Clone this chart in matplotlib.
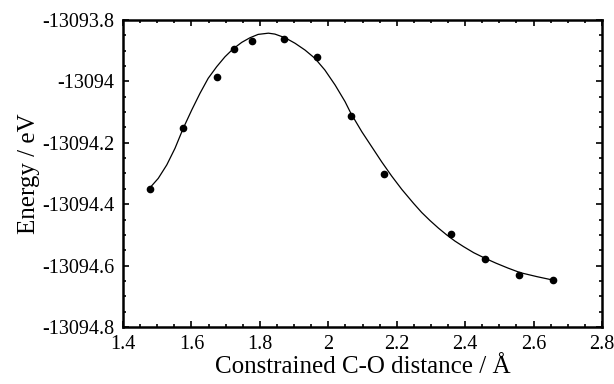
import matplotlib
matplotlib.use("Agg")
import matplotlib.pyplot as plt
from matplotlib.ticker import MultipleLocator, FuncFormatter

# Computed points
dist = [1.478, 1.576, 1.674, 1.723, 1.778, 1.871, 1.967, 2.066, 2.162, 2.359, 2.458, 2.558, 2.657]
energy = [-13094.352, -13094.151, -13093.986, -13093.894, -13093.869, -13093.861, -13093.919,
          -13094.113, -13094.303, -13094.496, -13094.578, -13094.631, -13094.646]

# Fitted curve
curve_x = [1.476, 1.503, 1.528, 1.552, 1.576, 1.601, 1.625, 1.649, 1.674, 1.698, 1.722,
           1.747, 1.771, 1.795, 1.825, 1.844, 1.874, 1.903, 1.932, 1.961, 1.990, 2.020,
           2.049, 2.066, 2.098, 2.127, 2.156, 2.185, 2.215, 2.249, 2.273, 2.297, 2.322,
           2.346, 2.370, 2.395, 2.425, 2.458, 2.490, 2.525, 2.561, 2.610, 2.656]
curve_y = [-13094.350, -13094.316, -13094.272, -13094.218, -13094.153, -13094.093, -13094.039,
           -13093.990, -13093.952, -13093.920, -13093.894, -13093.873, -13093.858, -13093.847,
           -13093.843, -13093.846, -13093.858, -13093.876, -13093.898, -13093.925, -13093.963,
           -13094.012, -13094.066, -13094.104, -13094.164, -13094.213, -13094.262, -13094.308,
           -13094.352, -13094.397, -13094.427, -13094.453, -13094.478, -13094.500, -13094.520,
           -13094.538, -13094.558, -13094.576, -13094.592, -13094.608, -13094.623, -13094.636,
           -13094.647]

plt.rcParams['font.family'] = ['Liberation Serif', 'DejaVu Serif']

fig = plt.figure(figsize=(6.14, 3.84), dpi=100)
ax = fig.add_axes([0.2003, 0.1484, 0.7802, 0.7996])

ax.plot(curve_x, curve_y, color='black', lw=0.9)
ax.plot(dist, energy, 'o', color='black', ms=4.5)

ax.set_xlim(1.4, 2.8)
ax.set_ylim(-13094.8, -13093.8)
ax.xaxis.set_major_locator(MultipleLocator(0.2))
ax.xaxis.set_minor_locator(MultipleLocator(0.05))
ax.yaxis.set_major_locator(MultipleLocator(0.2))
ax.yaxis.set_minor_locator(MultipleLocator(0.05))

def fmt(v, pos):
    s = f"{v:.1f}"
    if s.endswith('.0'):
        s = s[:-2]
    return s

ax.xaxis.set_major_formatter(FuncFormatter(fmt))
ax.yaxis.set_major_formatter(FuncFormatter(fmt))
ax.tick_params(which='both', direction='in', top=True, right=True, labelsize=14.5, width=1.2)
ax.tick_params(which='major', length=4, pad=6)
ax.tick_params(which='minor', length=2)
for sp in ax.spines.values():
    sp.set_linewidth(1.8)

ax.set_xlabel('Constrained C-O distance / Å', fontsize=18, labelpad=1)
ax.set_ylabel('Energy / eV', fontsize=18, labelpad=2)

fig.savefig('out.png', dpi=100)
